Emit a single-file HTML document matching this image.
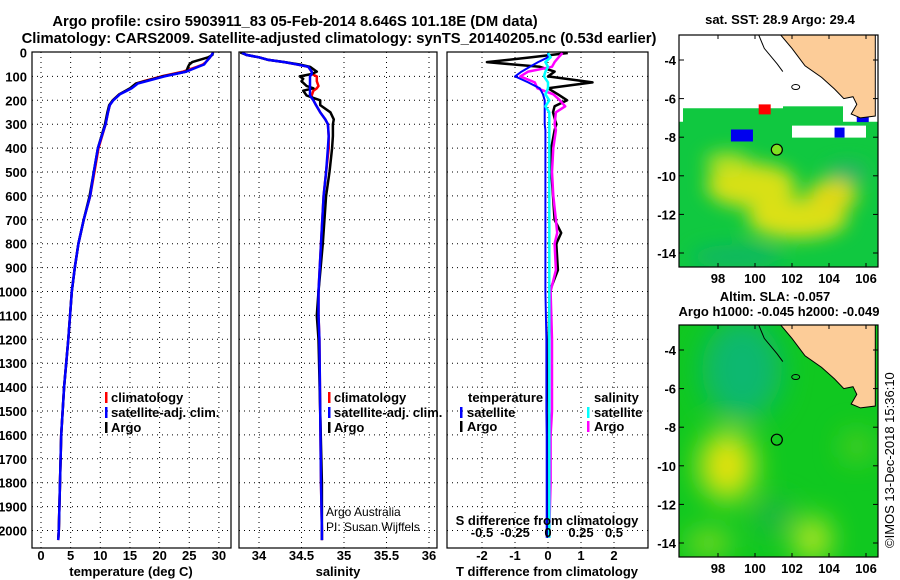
<!DOCTYPE html>
<html><head><meta charset="utf-8">
<style>
body{margin:0;background:#fff;}
svg{display:block;font-family:"Liberation Sans",sans-serif;}
.b{font-weight:bold;font-size:13px;}
</style></head>
<body>
<svg id="fig" width="900" height="580" viewBox="0 0 900 580" xmlns="http://www.w3.org/2000/svg">
<defs>
<filter id="blur1" x="-50%" y="-50%" width="200%" height="200%"><feGaussianBlur stdDeviation="9"/></filter>
<filter id="blur2" x="-50%" y="-50%" width="200%" height="200%"><feGaussianBlur stdDeviation="14"/></filter>
<clipPath id="clipM1"><rect x="679" y="35" width="199" height="232"/></clipPath>
<clipPath id="clipM2"><rect x="679" y="325" width="199" height="232"/></clipPath>
</defs>
<text class="b" x="295" y="26" text-anchor="middle" style="font-size:14.8px">Argo profile: csiro 5903911_83 05-Feb-2014 8.646S 101.18E (DM data)</text>
<text class="b" x="339" y="43" text-anchor="middle" style="font-size:14.8px">Climatology: CARS2009. Satellite-adjusted climatology: synTS_20140205.nc (0.53d earlier)</text>
<g id="panels"></g>
</svg>
<script>
// ---------- data ----------
const tDepth = [0,10,20,40,50,60,80,100,120,130,150,175,200,220,250,300,400,500,600,700,800,900,1000,1200,1400,1600,1800,2000,2040];
const tArgo  = [29.0,28.9,28.2,25.5,25.0,24.8,24.5,20.5,17.5,16.0,15.0,13.2,12.1,11.5,11.2,10.8,9.6,8.9,8.2,7.2,6.3,5.7,5.2,4.6,3.9,3.4,3.2,3.0,2.9];
const tSat   = [29.0,28.8,28.5,27.8,27.5,26.5,24.5,20.8,17.8,16.3,15.3,13.3,12.2,11.6,11.3,10.9,9.6,8.9,8.3,7.2,6.3,5.7,5.2,4.6,3.9,3.4,3.2,3.0,2.9];
const tClim  = [29.0,28.8,28.5,27.8,27.3,26.3,24.0,20.3,17.3,16.0,15.1,13.2,12.1,11.6,11.3,10.9,9.7,9.0,8.3,7.2,6.3,5.7,5.2,4.6,3.9,3.4,3.2,3.0,2.9];
const sDepth = [0,10,20,30,40,50,60,80,90,100,110,120,140,150,160,180,190,200,220,250,280,300,350,400,500,600,800,1000,1100,1200,1500,1800,2000,2040];
const sArgo  = [33.78,33.85,34.0,34.1,34.3,34.48,34.6,34.68,34.62,34.48,34.52,34.5,34.56,34.64,34.52,34.56,34.64,34.72,34.72,34.84,34.88,34.87,34.87,34.86,34.83,34.79,34.75,34.70,34.68,34.70,34.72,34.74,34.74,34.74];
const sSat   = [33.80,33.85,34.0,34.1,34.3,34.45,34.58,34.62,34.62,34.6,34.6,34.6,34.6,34.6,34.6,34.6,34.62,34.64,34.67,34.72,34.78,34.81,34.82,34.81,34.79,34.76,34.73,34.70,34.70,34.71,34.72,34.73,34.74,34.74];
const sClim  = [33.80,33.85,34.0,34.1,34.3,34.45,34.58,34.62,34.62,34.68,34.68,34.68,34.7,34.68,34.64,34.62,34.62,34.64,34.67,34.72,34.78,34.81,34.82,34.82,34.79,34.76,34.73,34.70,34.70,34.71,34.72,34.73,34.74,34.74];
const dDepth = [2,20,40,60,80,100,125,150,175,200,225,250,300,325,400,500,600,700,755,800,910,1000,1200,1400,1500,1600,1800,2000,2030];
const dTArgo = [0.6,-0.5,-1.85,-0.25,0.2,0,1.35,0,0.3,0.58,0.2,0.15,0.25,0.2,0.1,0.1,0.15,0.2,0.4,0.25,0.3,0.05,0.02,0,0.02,0,0,0,0];
const dTSat  = [0,0,-0.3,-0.55,-0.8,-1.0,-0.6,-0.25,-0.15,-0.1,-0.1,-0.1,-0.1,-0.08,-0.08,-0.08,-0.08,-0.08,-0.08,-0.08,-0.08,-0.08,-0.05,-0.05,-0.05,-0.04,-0.04,-0.04,-0.04];
const dSArgo = [0.11,0.08,0.05,0.03,-0.15,-0.21,-0.1,-0.08,0.04,0.09,0.13,0.06,0.05,0.06,0.04,0.03,0.04,0.06,0.07,0.05,0.06,0.02,0.03,0.03,0.03,0.02,0.02,0.01,0.01];
const dSSat  = [0.0,0.02,-0.02,0.0,-0.02,-0.03,0.0,0.0,-0.02,0.01,-0.02,0.01,0.01,0.01,0.01,0.01,0.01,0.01,0.01,0.01,0.01,0.01,0.01,0.01,0.01,0.01,0.01,0.01,0.01];
const depthTicks = [0,100,200,300,400,500,600,700,800,900,1000,1100,1200,1300,1400,1500,1600,1700,1800,1900,2000];
const tTicks = [0,5,10,15,20,25,30];
const sTicks = [34,34.5,35,35.5,36];
const sTickLabels = ["34","34.5","35","35.5","36"];
const dTTicks = [-2,-1,0,1,2];
const dSTicks = [-0.5,-0.25,0,0.25,0.5];
const dSTickLabels = ["-0.5","-0.25","0","0.25","0.5"];
const latTicks = [-4,-6,-8,-10,-12,-14];
const lonTicks = [98,100,102,104,106];
const argoLon = 101.18, argoLat = -8.646;

// ---------- helpers ----------
const NS="http://www.w3.org/2000/svg";
const root=document.getElementById('panels');
function mk(tag,attrs,parent){const e=document.createElementNS(NS,tag);for(const k in attrs)e.setAttribute(k,attrs[k]);(parent||root).appendChild(e);return e;}
const Y = d => 52.5 + d*0.239;
const PTOP=52, PBOT=548;
const xT = v => 41 + v*5.93;
const xS = v => 259 + (v-34)*85;
const xDT = v => 548 + v*33;
const xDS = v => 548 + v*132;

function frame(x0,x1,name){
  const r=mk('rect',{x:x0,y:PTOP,width:x1-x0,height:PBOT-PTOP,fill:'none',stroke:'#000','stroke-width':1.2});
  
  
}
function grid(x0,x1,xs,name){
  const g=mk('g',{stroke:'#000','stroke-width':1,'stroke-dasharray':'1,4'});
  
  
  depthTicks.forEach(d=>{ if(d>0) mk('line',{x1:x0,x2:x1,y1:Y(d),y2:Y(d)},g); });
  xs.forEach(x=>mk('line',{x1:x,x2:x,y1:PTOP,y2:PBOT},g));
}
function line(xs,ds,fx,color,w,name){
  const pts=xs.map((v,i)=>fx(v).toFixed(1)+','+Y(ds[i]).toFixed(1)).join(' ');
  const p=mk('polyline',{points:pts,fill:'none',stroke:color,'stroke-width':w,'stroke-linejoin':'round'});
  
  
}
function text(x,y,s,name,opts){
  const t=mk('text',Object.assign({x:x,y:y,class:'b'},opts||{}));
  t.textContent=s;
  
  
  return t;
}
function legendBar(x,y,color,name){
  const r=mk('rect',{x:x,y:y-10,width:2.5,height:11,fill:color});
  
  
}

// ---------- panel 1: temperature ----------
grid(32,231,tTicks.map(xT),'temperature-grid');
line(tClim,tDepth,xT,'#f00',2.5,'temperature-climatology-line');
line(tArgo,tDepth,xT,'#000',2.5,'temperature-argo-line');
line(tSat,tDepth,xT,'#0000ff',2.5,'temperature-satellite-line');
frame(32,231,'temperature-plot-area');
depthTicks.forEach(d=>text(27,Y(d)+5,String(d),'depth-tick-label',{'text-anchor':'end'}));
tTicks.forEach(v=>text(xT(v),560,String(v),'temperature-tick-label',{'text-anchor':'middle'}));
text(131,576,'temperature (deg C)','temperature-axis-title',{'text-anchor':'middle'});
legendBar(105,402,'#f00','legend-climatology-swatch');text(111,402,'climatology','legend-climatology');
legendBar(105,417,'#00f','legend-satellite-swatch');text(111,417,'satellite-adj. clim.','legend-satellite-adj');
legendBar(105,432,'#000','legend-argo-swatch');text(111,432,'Argo','legend-argo');

// ---------- panel 2: salinity ----------
grid(239,437,sTicks.map(xS),'salinity-grid');
line(sClim,sDepth,xS,'#f00',2.5,'salinity-climatology-line');
line(sArgo,sDepth,xS,'#000',2.5,'salinity-argo-line');
line(sSat,sDepth,xS,'#0000ff',2.5,'salinity-satellite-line');
frame(239,437,'salinity-plot-area');
sTicks.forEach((v,i)=>text(xS(v),560,sTickLabels[i],'salinity-tick-label',{'text-anchor':'middle'}));
text(338,576,'salinity','salinity-axis-title',{'text-anchor':'middle'});
legendBar(328,402,'#f00','legend2-climatology-swatch');text(334,402,'climatology','legend2-climatology');
legendBar(328,417,'#00f','legend2-satellite-swatch');text(334,417,'satellite-adj. clim.','legend2-satellite-adj');
legendBar(328,432,'#000','legend2-argo-swatch');text(334,432,'Argo','legend2-argo');
text(326,516,'Argo Australia','credit-argo-australia',{class:'',"font-size":'12'});
text(326,531,'PI: Susan Wijffels','credit-pi',{class:'',"font-size":'12'});

// ---------- panel 3: differences ----------
grid(447,648,dTTicks.map(xDT),'difference-grid');
line(dTArgo,dDepth,xDT,'#000',2.5,'t-diff-argo-line');
line(dSArgo,dDepth,xDS,'#ff00ff',2.5,'s-diff-argo-line');
line(dTSat,dDepth,xDT,'#0000ff',2,'t-diff-satellite-line');
line(dSSat,dDepth,xDS,'#00ffff',2.5,'s-diff-satellite-line');
frame(447,648,'difference-plot-area');
dTTicks.forEach(v=>text(xDT(v),560,String(v),'t-diff-tick-label',{'text-anchor':'middle'}));
dSTicks.forEach((v,i)=>text(xDS(v),537,dSTickLabels[i],'s-diff-tick-label',{'text-anchor':'middle'}));
text(547,525,'S difference from climatology','s-diff-axis-title',{'text-anchor':'middle'});
text(547,576,'T difference from climatology','t-diff-axis-title',{'text-anchor':'middle'});
text(468,402,'temperature','legend3-temperature-heading');
legendBar(460,417,'#00f','legend3-t-satellite-swatch');text(467,417,'satellite','legend3-t-satellite');
legendBar(460,431,'#000','legend3-t-argo-swatch');text(467,431,'Argo','legend3-t-argo');
text(594,402,'salinity','legend3-salinity-heading');
legendBar(587,417,'#0ff','legend3-s-satellite-swatch');text(594,417,'satellite','legend3-s-satellite');
legendBar(587,431,'#f0f','legend3-s-argo-swatch');text(594,431,'Argo','legend3-s-argo');

// ---------- maps ----------
const mx = lon => 718 + (lon-98)*18.5;
function mapPanel(top,kind){
  const my = lat => top + 25 + (-4-lat)*19.3;
  const g=mk('g',{'clip-path':kind==1?'url(#clipM1)':'url(#clipM2)'});
  
  
  const H=232;
  if(kind==1){
    mk('rect',{x:679,y:top,width:199,height:H,fill:'#fff'},g);
    mk('rect',{x:679,y:my(-7.2),width:199,height:H,fill:'#10c840'},g);
    mk('rect',{x:683,y:my(-6.5),width:100,height:20,fill:'#10c840'},g);
    mk('rect',{x:783,y:my(-6.4),width:60,height:16,fill:'#10c840'},g);
    const b=mk('g',{filter:'url(#blur1)'},g);
    mk('ellipse',{cx:mx(99.8),cy:my(-10.5),rx:45,ry:22,fill:'#d8e018'},b);
    mk('ellipse',{cx:mx(102.3),cy:my(-12.2),rx:50,ry:20,fill:'#dce018'},b);
    mk('ellipse',{cx:mx(104.2),cy:my(-11),rx:25,ry:16,fill:'#e0d818'},b);
    mk('ellipse',{cx:mx(98.5),cy:my(-9.3),rx:22,ry:10,fill:'#b8e020'},b);
    mk('ellipse',{cx:mx(99),cy:my(-14.2),rx:45,ry:12,fill:'#10b860'},b);
    mk('ellipse',{cx:mx(105),cy:my(-9.8),rx:20,ry:8,fill:'#30b070'},b);
    mk('rect',{x:mx(102),y:my(-7.4),width:mx(106)-mx(102),height:12,fill:'#fff'},g);
    mk('rect',{x:mx(100.2),y:my(-6.3),width:12,height:10,fill:'#f00'},g);
    mk('rect',{x:mx(98.7),y:my(-7.6),width:22,height:12,fill:'#0000ee'},g);
    mk('rect',{x:mx(104.3),y:my(-7.5),width:10,height:10,fill:'#0000ee'},g);
    mk('rect',{x:mx(105.5),y:my(-6.7),width:12,height:10,fill:'#0000ee'},g);
    mk('rect',{x:mx(105.7),y:my(-3.3),width:10,height:60,fill:'#00e0f0'},g);
  } else {
    mk('rect',{x:679,y:top,width:199,height:H,fill:'#10c820'},g);
    const b=mk('g',{filter:'url(#blur2)'},g);
    mk('ellipse',{cx:mx(99.3),cy:my(-5),rx:40,ry:50,fill:'#10b870'},b);
    mk('ellipse',{cx:mx(98.5),cy:my(-10),rx:28,ry:35,fill:'#d8e818'},b);
    mk('ellipse',{cx:mx(98.4),cy:my(-10),rx:12,ry:14,fill:'#f0d810'},b);
    mk('ellipse',{cx:mx(103.1),cy:my(-13.8),rx:18,ry:22,fill:'#c0e820'},b);
    mk('ellipse',{cx:mx(97.5),cy:my(-14),rx:22,ry:10,fill:'#a8e020'},b);
    mk('ellipse',{cx:mx(105.5),cy:my(-9),rx:14,ry:14,fill:'#60d020'},b);
    mk('ellipse',{cx:mx(101),cy:my(-12.6),rx:18,ry:14,fill:'#20b050'},b);
  }
  const land=[[101.3,-2.6],[102,-3.4],[102.7,-4.3],[103.6,-4.9],[104.3,-5.5],[104.8,-6.0],[105.3,-5.9],[105.5,-6.3],[105.2,-6.8],[105.7,-7.0],[106.5,-6.9],[106.5,-2.6]];
  const lp=mk('polygon',{points:land.map(p=>mx(p[0]).toFixed(1)+','+my(p[1]).toFixed(1)).join(' '),fill:'#fccc98',stroke:'#000','stroke-width':1},g);
  
  
  const shelf=[[100.2,-2.7],[100.5,-3.4],[101.2,-4.2],[101.5,-4.6]];
  mk('polyline',{points:shelf.map(p=>mx(p[0]).toFixed(1)+','+my(p[1]).toFixed(1)).join(' '),fill:'none',stroke:'#000','stroke-width':1},g);
  mk('ellipse',{cx:mx(102.2),cy:my(-5.4),rx:4,ry:2.5,fill:'none',stroke:'#000','stroke-width':1},g);
  const c=mk('circle',{cx:mx(argoLon),cy:my(argoLat),r:5.5,fill:kind==1?'#80e020':'none',stroke:'#000','stroke-width':1.2});
  
  
  const f=mk('rect',{x:679,y:top,width:199,height:H,fill:'none',stroke:'#000','stroke-width':1.2});
  
  
  latTicks.forEach(v=>{
    mk('line',{x1:679,x2:684,y1:my(v),y2:my(v),stroke:'#000'});
    mk('line',{x1:873,x2:878,y1:my(v),y2:my(v),stroke:'#000'});
    text(676,my(v)+5,String(v),'map-lat-tick-label',{'text-anchor':'end'});
  });
  lonTicks.forEach(v=>{
    mk('line',{x1:mx(v),x2:mx(v),y1:top,y2:top+4,stroke:'#000'});
    mk('line',{x1:mx(v),x2:mx(v),y1:top+H-4,y2:top+H,stroke:'#000'});
    text(mx(v),top+H+16,String(v),'map-lon-tick-label',{'text-anchor':'middle'});
  });
}
mapPanel(35,1);
mapPanel(325,2);
text(780,24,'sat. SST: 28.9 Argo: 29.4','sst-map-title',{'text-anchor':'middle'});
text(775,301,'Altim. SLA: -0.057','sla-map-title',{'text-anchor':'middle'});
text(779,316,'Argo h1000: -0.045 h2000: -0.049','sla-map-subtitle',{'text-anchor':'middle'});
text(894,548,'©IMOS 13-Dec-2018 15:36:10','imos-timestamp',{class:'','font-size':'13',transform:'rotate(-90 894 548)'});
</script>
</body></html>
